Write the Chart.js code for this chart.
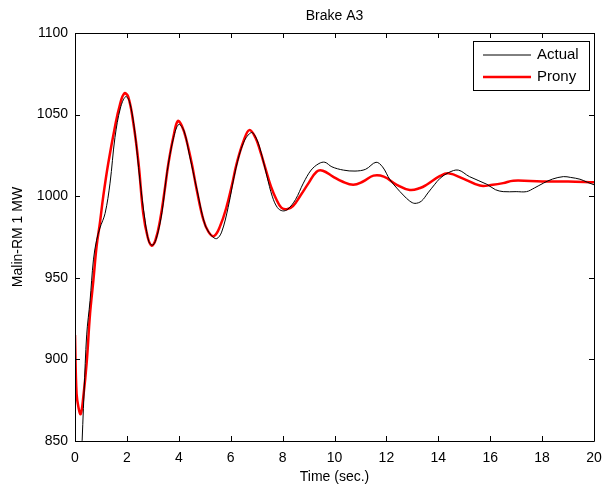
<!DOCTYPE html>
<html><head><meta charset="utf-8">
<script src="https://cdn.jsdelivr.net/npm/chart.js@4/dist/chart.umd.min.js"></script>
<style>html,body{margin:0;padding:0;background:#fff}canvas{display:block}</style>
</head><body>
<canvas id="c" width="613" height="489"></canvas>
<script>
const titleText = "Brake A3";
const xTitle = "Time (sec.)";
const yTitle = "Malin-RM 1 MW";
const xTicks = [0,2,4,6,8,10,12,14,16,18,20];
const yTicks = [850,900,950,1000,1050,1100];

const actualTime = [0.25,0.35,0.45,0.58,0.71,0.83,0.96,1.16,1.35,1.54,1.75,1.95,2.1,2.3,2.5,2.7,2.85,3.0,3.15,3.35,3.55,3.8,4.0,4.2,4.4,4.7,5.0,5.25,5.46,5.65,5.9,6.2,6.5,6.8,7.0,7.2,7.4,7.6,7.8,8.0,8.2,8.5,8.8,9.1,9.4,9.63,9.9,10.34,10.79,11.2,11.6,11.85,12.14,12.4,12.65,12.9,13.1,13.35,13.6,13.85,14.07,14.4,14.77,15.2,15.87,16.2,16.5,17.0,17.4,17.7,18.05,18.4,18.82,19.1,19.46,19.75,20];
const actualValues = [840,880,915,936,961,973,980.5,989.5,1008,1036,1054,1061,1058,1040,1010,985,972,970,975,990,1015,1036,1044,1040,1026,1004,983,976,974,978,993,1017,1033,1039,1035,1025,1012,1000,993,991,992,998,1008,1016,1020,1020.8,1018,1016,1015.4,1016.5,1020.8,1018,1010,1005,1000.7,997,995.6,997,1002,1007,1011,1014.5,1016,1012,1007.3,1004,1002.8,1002.8,1002.8,1005,1008,1010.5,1012,1011.5,1010.4,1008.5,1007];

const pronyTime = [0,0.06,0.14,0.22,0.32,0.45,0.58,0.71,0.83,0.96,1.09,1.28,1.54,1.73,1.9,2.05,2.25,2.45,2.63,2.8,2.95,3.1,3.28,3.45,3.6,3.8,3.96,4.12,4.3,4.5,4.69,4.95,5.15,5.36,5.6,5.84,6.05,6.23,6.5,6.72,6.95,7.15,7.32,7.55,7.77,7.95,8.16,8.4,8.67,9.0,9.31,9.55,9.94,10.3,10.72,11.1,11.5,11.9,12.4,12.9,13.3,13.55,14.07,14.39,15.0,15.6,16.1,16.5,16.89,18,19,20];
const pronyValues = [915,879,870,866.5,877,898,928,948.7,969,983.6,1000,1020,1042.6,1056,1063,1061,1044.7,1020,989.5,975,969.7,973,985.4,1003,1020,1037,1046,1043,1034,1020,1004,985.4,978,975.6,982,993.5,1007,1020,1034,1040.5,1036,1027,1018,1006,997.7,993,992,994,1000,1008,1015,1015.6,1012,1009,1007,1009,1012.6,1012,1007,1003.8,1005,1007,1012.4,1014,1010.5,1006.5,1007,1008,1009.5,1009,1009,1008.5];

const FONT = "Liberation Sans, Arial, sans-serif";

const boxPlugin = {
  id: 'boxPlugin',
  afterDraw(chart) {
    const {ctx, chartArea: a, scales: {x, y}} = chart;
    ctx.save();
    ctx.strokeStyle = '#000';
    ctx.lineWidth = 1;
    ctx.beginPath();
    ctx.rect(Math.round(a.left)+0.5, Math.round(a.top)+0.5, Math.round(a.right-a.left), Math.round(a.bottom-a.top));
    ctx.stroke();
    const tl = 5;
    ctx.beginPath();
    xTicks.forEach(v => {
      const px = Math.round(x.getPixelForValue(v)) + 0.5;
      ctx.moveTo(px, a.bottom); ctx.lineTo(px, a.bottom - tl);
      ctx.moveTo(px, a.top); ctx.lineTo(px, a.top + tl);
    });
    yTicks.forEach(v => {
      const py = Math.round(y.getPixelForValue(v)) + 0.5;
      ctx.moveTo(a.left, py); ctx.lineTo(a.left + tl, py);
      ctx.moveTo(a.right, py); ctx.lineTo(a.right - tl, py);
    });
    ctx.stroke();
    // title
    ctx.fillStyle = '#000';
    ctx.font = '14px ' + FONT;
    ctx.textAlign = 'center';
    ctx.textBaseline = 'middle';
    ctx.fillText(titleText, (a.left + a.right) / 2, 16);
    // legend
    const lx = 473, ly = 41, lw = 116, lh = 49;
    ctx.fillStyle = '#fff';
    ctx.fillRect(lx, ly, lw, lh);
    ctx.strokeRect(lx + 0.5, ly + 0.5, lw, lh);
    chart.data.datasets.forEach((ds, i) => {
      const yy = ly + 14 + i * 22;
      ctx.strokeStyle = ds.borderColor;
      ctx.lineWidth = ds.borderWidth;
      ctx.beginPath();
      ctx.moveTo(lx + 10, yy); ctx.lineTo(lx + 58, yy);
      ctx.stroke();
      ctx.fillStyle = '#000';
      ctx.textAlign = 'left';
      ctx.font = '15px ' + FONT;
      ctx.fillText(ds.label, lx + 64, yy);
    });
    ctx.restore();
  }
};

new Chart(document.getElementById('c'), {
  type: 'line',
  data: {
    datasets: [
      { label: 'Actual', data: actualTime.map((t, i) => ({x: t, y: actualValues[i]})),
        borderColor: '#000000', borderWidth: 1, pointRadius: 0, tension: 0.35, fill: false },
      { label: 'Prony', data: pronyTime.map((t, i) => ({x: t, y: pronyValues[i]})),
        borderColor: '#ff0000', borderWidth: 2.5, pointRadius: 0, tension: 0.4, fill: false }
    ]
  },
  options: {
    responsive: false,
    animation: false,
    layout: { padding: { top: 33, right: 19, left: 0, bottom: 0 } },
    plugins: { legend: { display: false }, title: { display: false }, tooltip: { enabled: false } },
    scales: {
      x: {
        type: 'linear', min: 0, max: 20,
        afterBuildTicks: s => { s.ticks = xTicks.map(v => ({value: v})); },
        afterFit: s => { s.height = 48; },
        grid: { display: false }, border: { display: false },
        ticks: { color: '#000', font: { family: FONT, size: 14 }, padding: 1, maxRotation: 0, callback: v => String(v) },
        title: { display: true, text: xTitle, color: '#000', font: { family: FONT, size: 14 }, padding: { top: 0, bottom: 3 } }
      },
      y: {
        type: 'linear', min: 850, max: 1100,
        afterBuildTicks: s => { s.ticks = yTicks.map(v => ({value: v})); },
        afterFit: s => { s.width = 75; },
        grid: { display: false, drawTicks: false }, border: { display: false },
        ticks: { color: '#000', font: { family: FONT, size: 14 }, padding: 7, callback: v => String(v) },
        title: { display: true, text: yTitle, color: '#000', font: { family: FONT, size: 14 }, padding: { top: 10, bottom: 0 } }
      }
    }
  },
  plugins: [boxPlugin]
});
</script>
</body></html>
